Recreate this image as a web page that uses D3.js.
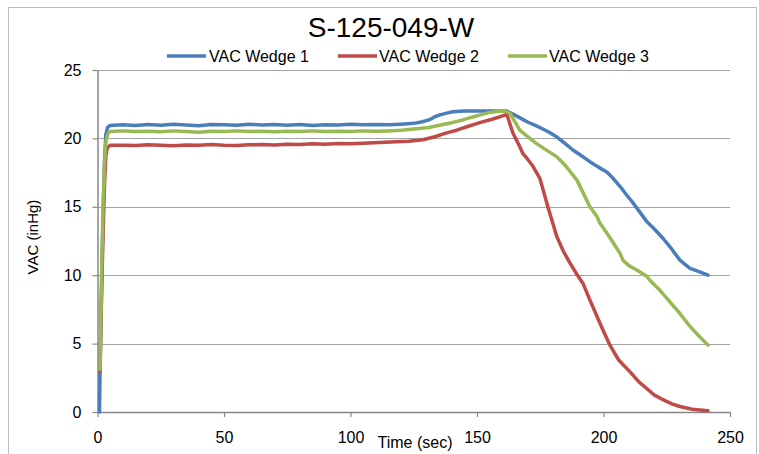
<!DOCTYPE html>
<html>
<head>
<meta charset="utf-8">
<script src="https://cdn.jsdelivr.net/npm/d3@7"></script>
<style>
  html, body { margin: 0; padding: 0; background: #fff; }
  svg { display: block; font-family: "Liberation Sans", Arial, sans-serif; }
</style>
</head>
<body>
<svg id="chart" width="759" height="454"></svg>
<script>
// Vacuum readings over time for the three wedges, [time (sec), VAC (inHg)]
const wedge1 = [
  [0.8,0],[1.0,3.0],[1.6,9],[2.2,14.5],[2.8,18.5],[3.3,20.3],[4,20.8],[5,20.95],
  [10,21.0],[15,20.95],[20,21.02],[25,20.97],[30,21.03],[35,20.98],[40,20.93],
  [45,21.02],[50,21.0],[55,20.96],[60,21.03],[65,20.98],[70,21.01],[75,20.97],
  [80,21.02],[85,20.95],[90,21.0],[95,20.98],[100,21.03],[105,20.99],[110,21.02],
  [115,21.0],[120,21.04],[125,21.1],[128,21.2],[131,21.35],[133,21.55],[135,21.7],
  [138,21.85],[140.4,21.95],[145,22.0],[150,22.0],[155,22.0],[161.8,22.0],
  [164,21.8],[167,21.5],[170,21.2],[174.8,20.8],[178,20.5],[181.6,20.1],[185,19.6],
  [187.9,19.15],[190.7,18.8],[194.6,18.3],[198,17.9],[201.3,17.55],[203.7,17.1],
  [206.5,16.5],[209,15.9],[211.6,15.3],[214,14.7],[217.2,13.9],[220,13.4],
  [223.5,12.7],[227,11.9],[230.2,11.1],[234.2,10.5],[238,10.25],[241.3,10.0]
];
const wedge2 = [
  [1.0,2.95],[1.6,8.5],[2.2,13],[2.8,16.8],[3.3,18.7],[3.8,19.3],[5,19.5],
  [10,19.5],[15,19.48],[20,19.53],[25,19.5],[30,19.47],[35,19.52],[40,19.5],
  [45,19.55],[50,19.5],[55,19.48],[60,19.53],[65,19.55],[70,19.52],[75,19.58],
  [80,19.55],[85,19.6],[90,19.57],[95,19.62],[100,19.6],[105,19.65],[111.6,19.7],
  [118,19.75],[123,19.8],[128.6,19.9],[133,20.1],[138,20.4],[142,20.6],[146,20.85],
  [151.1,21.15],[156,21.4],[161,21.7],[161.8,21.75],[164.2,20.4],[165,20.1],
  [166.9,19.4],[168.1,18.9],[169.7,18.55],[172,18.0],[174.8,17.1],[176.5,16.0],
  [178,15.0],[181.6,12.8],[184,11.8],[186.7,10.9],[189,10.2],[191.9,9.4],
  [194.6,8.2],[197.4,7.0],[200,5.9],[202.5,4.9],[206,3.8],[210.4,2.95],[214,2.2],
  [217.2,1.7],[220,1.25],[223.5,0.9],[227,0.6],[230.2,0.4],[235,0.2],[241.3,0.1]
];
const wedge3 = [
  [1.0,3.1],[1.6,10],[2.2,15],[2.8,18.3],[3.3,19.7],[4,20.3],[4.8,20.5],
  [10,20.55],[15,20.5],[20,20.53],[25,20.48],[30,20.55],[35,20.5],[40,20.45],
  [45,20.52],[50,20.5],[55,20.55],[60,20.5],[65,20.53],[70,20.48],[75,20.52],
  [80,20.5],[85,20.55],[90,20.5],[95,20.52],[100,20.5],[105,20.55],[110,20.52],
  [115,20.55],[120,20.6],[125,20.68],[131,20.8],[136,21.0],[140,21.15],[144.4,21.35],
  [148,21.55],[151.1,21.7],[155,21.9],[158,21.97],[161,22.0],[163,21.85],[165,21.2],
  [166.9,20.6],[170.9,20.0],[173.7,19.6],[177,19.2],[181.6,18.65],[185,18.0],
  [189.5,16.95],[192,16.0],[194.6,15.0],[197.4,14.3],[198.6,13.8],[202,12.9],
  [206.5,11.6],[207.7,11.1],[210,10.7],[213,10.4],[217.2,9.9],[219,9.5],[222.3,8.9],
  [226,8.1],[230.2,7.2],[234,6.3],[238,5.5],[241.3,4.9]
];

const seriesNames = ["VAC Wedge 1", "VAC Wedge 2", "VAC Wedge 3"];
const seriesColors = ["#4a7ebb", "#be4b48", "#98b954"];
const xTicks = [0, 50, 100, 150, 200, 250];
const yTicks = [0, 5, 10, 15, 20, 25];
const titleText = "S-125-049-W";
const xTitle = "Time (sec)";
const yTitle = "VAC (inHg)";

const series = [wedge1, wedge2, wedge3];

const svg = d3.select("#chart");
const plot = { left: 97.5, right: 730, top: 70, bottom: 412 };

// chart frame
svg.append("rect")
  .attr("x", 8.5).attr("y", 7.5)
  .attr("width", 748).attr("height", 460)
  .attr("fill", "#fff").attr("stroke", "#bcbcbc").attr("stroke-width", 1);

const x = d3.scaleLinear().domain([0, 250]).range([plot.left, plot.right]);
const y = d3.scaleLinear().domain([0, 25]).range([plot.bottom, plot.top]);

// horizontal gridlines
svg.append("g")
  .selectAll("line")
  .data(yTicks.filter(d => d > 0))
  .join("line")
  .attr("x1", plot.left).attr("x2", plot.right)
  .attr("y1", d => Math.round(y(d)) + 0.5).attr("y2", d => Math.round(y(d)) + 0.5)
  .attr("stroke", "#a3a3a3").attr("stroke-width", 1.2);

// axes
const xAxis = d3.axisBottom(x).tickValues(xTicks).tickSizeInner(5).tickSizeOuter(0).tickPadding(15);
const yAxis = d3.axisLeft(y).tickValues(yTicks).tickSizeInner(5).tickSizeOuter(0).tickPadding(11);

const gx = svg.append("g").attr("transform", `translate(0,${plot.bottom})`).call(xAxis);
const gy = svg.append("g").attr("transform", `translate(${plot.left},0)`).call(yAxis);

[gx, gy].forEach(g => {
  g.select(".domain").attr("stroke", "#868686").attr("stroke-width", 1.5);
  g.selectAll(".tick line").attr("stroke", "#868686").attr("stroke-width", 1.2);
  g.selectAll(".tick text")
    .attr("fill", "#000")
    .style("font-family", "'Liberation Sans', Arial, sans-serif")
    .style("font-size", "16px");
});

// series lines
const line = d3.line()
  .x(d => x(d[0]))
  .y(d => y(d[1]))
  .curve(d3.curveLinear);

svg.append("g")
  .selectAll("path")
  .data(series)
  .join("path")
  .attr("d", line)
  .attr("fill", "none")
  .attr("stroke", (d, i) => seriesColors[i])
  .attr("stroke-width", 3.5)
  .attr("stroke-linejoin", "round")
  .attr("stroke-linecap", "round");

// title
svg.append("text")
  .attr("x", 391).attr("y", 37)
  .attr("text-anchor", "middle")
  .style("font-size", "28px")
  .attr("fill", "#000")
  .text(titleText);

// legend
const legendItems = [
  { lx: 167, tx: 209 },
  { lx: 338, tx: 379 },
  { lx: 508, tx: 549 }
];
const legend = svg.append("g");
legendItems.forEach((p, i) => {
  legend.append("line")
    .attr("x1", p.lx).attr("x2", p.lx + 39)
    .attr("y1", 56).attr("y2", 56)
    .attr("stroke", seriesColors[i]).attr("stroke-width", 3.5);
  legend.append("text")
    .attr("x", p.tx).attr("y", 61.5)
    .style("font-size", "16px")
    .attr("fill", "#000")
    .text(seriesNames[i]);
});

// axis titles
svg.append("text")
  .attr("x", 415).attr("y", 448)
  .attr("text-anchor", "middle")
  .style("font-size", "16px")
  .attr("fill", "#000")
  .text(xTitle);

svg.append("text")
  .attr("transform", "translate(38,237) rotate(-90)")
  .attr("text-anchor", "middle")
  .style("font-size", "15px")
  .attr("fill", "#000")
  .text(yTitle);
</script>
</body>
</html>
